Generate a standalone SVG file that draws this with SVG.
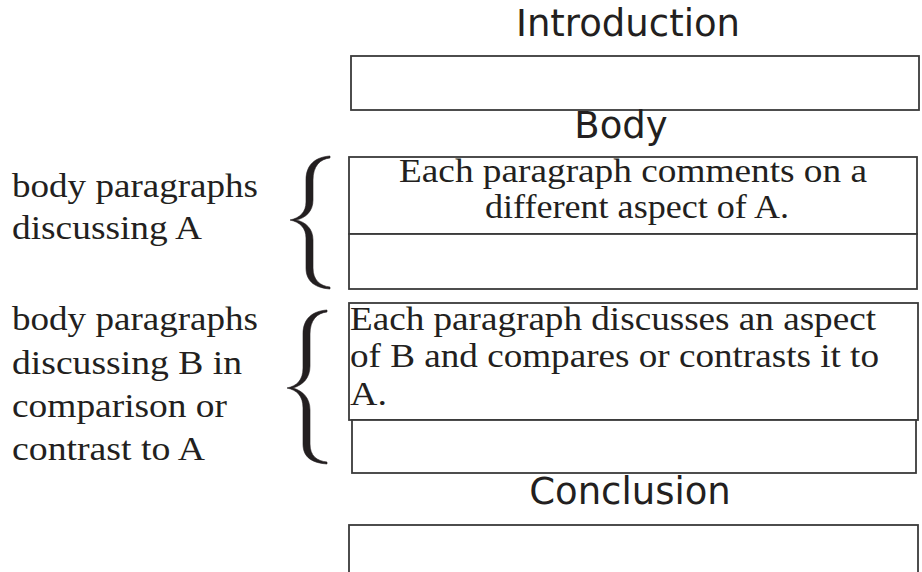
<svg xmlns="http://www.w3.org/2000/svg" width="922" height="572" viewBox="0 0 922 572">
<style>
.bg{fill:#ffffff}
.box{fill:#ffffff;stroke:#3a3a3a;stroke-width:1.8}
.sans{font-family:"DejaVu Sans","Verdana",sans-serif;font-size:37px;fill:#231f20}
.serif{font-family:"Liberation Serif","Times New Roman",serif;font-size:33px;fill:#231f20}
.brace{fill:#231f20;stroke:#231f20;stroke-width:0.6}
</style>
<rect class="bg" x="0" y="0" width="922" height="572"/>
<g id="introduction">
<text class="sans" x="628" y="36" text-anchor="middle">Introduction</text>
<rect class="box" x="351" y="56" width="568" height="54"/>
</g>
<g id="body-heading">
<text class="sans" x="621" y="138" text-anchor="middle">Body</text>
</g>
<g id="label-a">
<text class="serif" x="12" y="197" textLength="246" lengthAdjust="spacingAndGlyphs">body paragraphs</text>
<text class="serif" x="12" y="239" textLength="190" lengthAdjust="spacingAndGlyphs">discussing A</text>
</g>
<g id="brace-a">
<path class="brace" d="M330,156 C316,157 306,164 306,180 L306,202 C306,212 300,218 290,220 C300,222 306,228 306,238 L306,268 C306,282 316,288 330,289 L330,287 C320,286 313,280 313,268 L313,240 C313,229 306,222 296,220 C306,218 313,211 313,200 L313,180 C313,166 320,159 330,158 Z"/>
</g>
<g id="box-a1">
<rect class="box" x="349" y="157" width="568" height="77"/>
<text class="serif" x="633" y="182" text-anchor="middle" textLength="468" lengthAdjust="spacingAndGlyphs">Each paragraph comments on a</text>
<text class="serif" x="637" y="218" text-anchor="middle" textLength="304" lengthAdjust="spacingAndGlyphs">different aspect of A.</text>
</g>
<g id="box-a2">
<rect class="box" x="349" y="234" width="568" height="55"/>
</g>
<g id="label-b">
<text class="serif" x="12" y="330" textLength="246" lengthAdjust="spacingAndGlyphs">body paragraphs</text>
<text class="serif" x="12" y="374" textLength="230" lengthAdjust="spacingAndGlyphs">discussing B in</text>
<text class="serif" x="12" y="417" textLength="215" lengthAdjust="spacingAndGlyphs">comparison or</text>
<text class="serif" x="12" y="460" textLength="193" lengthAdjust="spacingAndGlyphs">contrast to A</text>
</g>
<g id="brace-b">
<path class="brace" d="M327,310 C313,311 303,318 303,334 L303,368 C303,380 297,386 287,388 C297,390 303,396 303,408 L303,444 C303,458 313,463 327,464 L327,462 C317,461 310,456 310,444 L310,410 C310,398 303,391 293,388 C303,385 310,378 310,366 L310,334 C310,320 317,313 327,312 Z"/>
</g>
<g id="box-b1">
<rect class="box" x="349" y="303" width="569" height="117"/>
<text class="serif" x="350" y="330" textLength="526" lengthAdjust="spacingAndGlyphs">Each paragraph discusses an aspect</text>
<text class="serif" x="350" y="367" textLength="529" lengthAdjust="spacingAndGlyphs">of B and compares or contrasts it to</text>
<text class="serif" x="350" y="405" textLength="37" lengthAdjust="spacingAndGlyphs">A.</text>
</g>
<g id="box-b2">
<rect class="box" x="352" y="420" width="564" height="53"/>
</g>
<g id="conclusion">
<text class="sans" x="630" y="504" text-anchor="middle">Conclusion</text>
<rect class="box" x="349" y="525" width="569" height="60"/>
</g>
<g id="connectors"></g>
</svg>
